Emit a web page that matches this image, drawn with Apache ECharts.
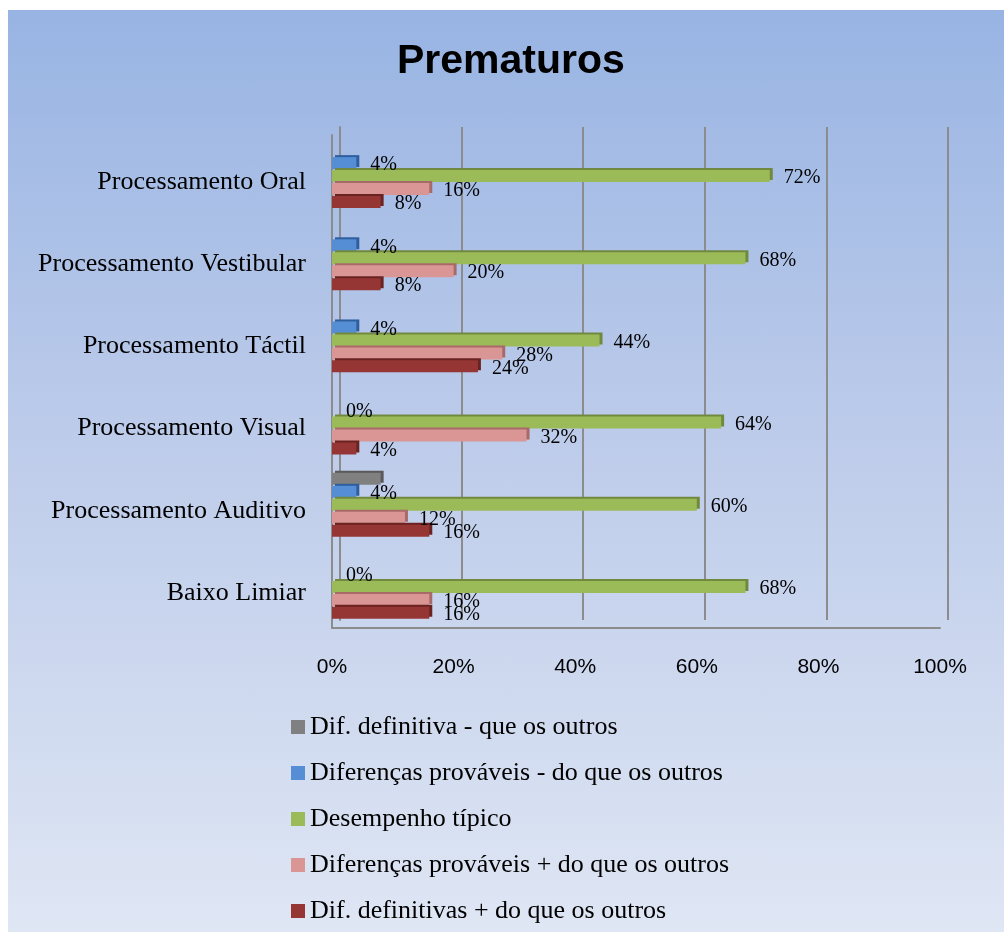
<!DOCTYPE html>
<html>
<head>
<meta charset="utf-8">
<script src="https://cdn.jsdelivr.net/npm/echarts@6/dist/echarts.min.js"></script>
<style>
  html, body { margin: 0; padding: 0; background: #fff; }
  #chart {
    position: absolute;
    left: 8px;
    top: 10px;
    width: 996px;
    height: 922px;
    background: linear-gradient(to bottom, #98b4e3 0%, #bccbea 45%, #dfe6f4 100%);
  }
</style>
</head>
<body>
<div id="chart"></div>
<script>
// categorias, de cima para baixo
const categories = [
  "Processamento Oral",
  "Processamento Vestibular",
  "Processamento Táctil",
  "Processamento Visual",
  "Processamento Auditivo",
  "Baixo Limiar"
];
const xTicks = [0, 20, 40, 60, 80, 100];

const difDefMenos = [0, 0, 0, 0, 8, 0];
const difProvMenos = [4, 4, 4, 0, 4, 0];
const desempenho = [72, 68, 44, 64, 60, 68];
const difProvMais = [16, 20, 28, 32, 12, 16];
const difDefMais = [8, 8, 24, 4, 16, 16];

const seriesNames = [
  "Dif. definitiva - que os outros",
  "Diferenças prováveis - do que os outros",
  "Desempenho típico",
  "Diferenças prováveis + do que os outros",
  "Dif. definitivas + do que os outros"
];

const chart = echarts.init(document.getElementById("chart"));
const serif = "Liberation Serif";
const gridColor = "#8c8c8c";

function barSeries(name, data, color, side, showLabel) {
  return {
    name: name,
    type: "bar",
    xAxisIndex: 0,
    yAxisIndex: 0,
    barWidth: 12,
    barGap: "8%",
    barCategoryGap: "20%",
    data: data,
    animation: false,
    itemStyle: {
      color: color,
      shadowColor: side,
      shadowOffsetX: 3,
      shadowOffsetY: -2,
      shadowBlur: 0
    },
    label: {
      show: showLabel,
      position: "right",
      distance: 14,
      offset: [0, 2],
      formatter: "{c}%",
      fontFamily: serif,
      fontSize: 20,
      color: "#000"
    }
  };
}

const option = {
  animation: false,
  title: {
    text: "Prematuros",
    left: 384,
    top: 26,
    textStyle: {
      fontFamily: "Liberation Sans",
      fontWeight: "bold",
      fontSize: 41,
      color: "#000"
    }
  },
  legend: {
    orient: "vertical",
    left: 278,
    top: 699,
    itemWidth: 14,
    itemHeight: 14,
    itemGap: 20,
    icon: "rect",
    data: seriesNames,
    textStyle: { fontFamily: serif, fontSize: 26, color: "#000" }
  },
  grid: [
    // plano da frente (barras)
    { left: 324, top: 125, width: 608, height: 493, containLabel: false },
    // parede de fundo (linhas de grelha)
    { left: 332, top: 117, width: 608, height: 493, containLabel: false }
  ],
  xAxis: [
    {
      gridIndex: 0,
      type: "value",
      min: xTicks[0],
      max: xTicks[xTicks.length - 1],
      interval: 20,
      axisLine: { show: true, lineStyle: { color: gridColor, width: 2 } },
      axisTick: { show: false },
      splitLine: { show: false },
      axisLabel: {
        margin: 29,
        formatter: "{value}%",
        fontFamily: "Liberation Sans",
        fontSize: 21,
        color: "#000"
      }
    },
    {
      gridIndex: 1,
      type: "value",
      min: xTicks[0],
      max: xTicks[xTicks.length - 1],
      interval: 20,
      axisLine: { show: false },
      axisTick: { show: false },
      axisLabel: { show: false },
      splitLine: { show: true, lineStyle: { color: gridColor, width: 2 } }
    }
  ],
  yAxis: [
    {
      gridIndex: 0,
      type: "category",
      inverse: true,
      data: categories,
      axisLine: { show: true, lineStyle: { color: gridColor, width: 2 } },
      axisTick: { show: false },
      axisLabel: {
        margin: 26,
        formatter: (v) => "{c|" + v + "}",
        rich: {
          c: {
            padding: [12, 0, 0, 0],
            fontFamily: serif,
            fontSize: 26,
            color: "#000"
          }
        }
      }
    },
    {
      gridIndex: 1,
      type: "category",
      inverse: true,
      data: categories,
      axisLine: { show: true, lineStyle: { color: gridColor, width: 2 } },
      axisTick: { show: false },
      axisLabel: { show: false }
    }
  ],
  series: [
    barSeries(seriesNames[0], difDefMenos, "#808080", "#595959", false),
    barSeries(seriesNames[1], difProvMenos, "#558ed5", "#2f5e9e", true),
    barSeries(seriesNames[2], desempenho, "#9bbb59", "#71893f", true),
    barSeries(seriesNames[3], difProvMais, "#da9694", "#a86a68", true),
    barSeries(seriesNames[4], difDefMais, "#963634", "#6a2322", true)
  ]
};

chart.setOption(option);
</script>
</body>
</html>
